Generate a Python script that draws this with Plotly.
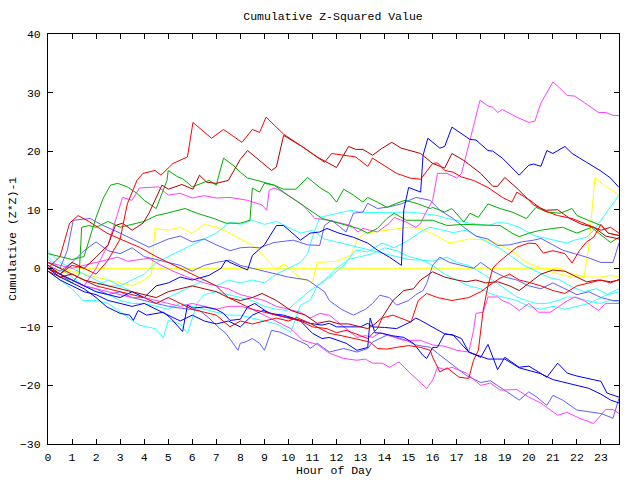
import plotly.graph_objects as go

HOUR_TICKS = list(range(0, 24))

RED_A = [(0,0),(0.5,-1),(1,0.5),(1.5,0),(2,-1),(2.5,1.4),(3,5),(3.3,11),(3.7,15),(3.95,16.2),(4.45,16.7),(4.7,15.9),(5.2,17.9),(5.8,19),(6.03,24.9),(6.8,22.2),(7.3,23.7),(8.07,21.5),(8.5,23.7),(8.8,23.2),(9.07,25.8),(9.8,22.9),(10.6,20.7),(11.0,19.5),(11.5,18.1),(11.8,19.6),(12.4,19.3),(12.8,19),(13.3,17.4),(13.5,18.8),(14.5,16.2),(15.06,15.4),(15.5,15.2),(16,17.9),(16.2,18),(16.5,16.7),(16.85,16.4),(17.2,15.6),(17.7,15),(18.3,13.8),(18.9,12.1),(19.3,11.3),(19.5,13),(20.05,11.6),(20.6,9.9),(21.2,9),(21.8,8.5),(22.4,7.5),(23,6.5),(23.4,7),(23.75,6)]
DARKRED_A = [(0,0.5),(0.5,-1),(1,1),(1.5,0),(2,1.9),(2.5,4),(2.8,7.3),(3.1,7.7),(3.5,6.5),(3.95,7.7),(4.2,9.4),(4.74,14.2),(5.0,13.5),(5.57,14.3),(6.03,13.5),(6.3,15.9),(6.6,14.7),(7.0,14.5),(7.5,15),(8.0,18.6),(8.3,20.1),(8.8,18.4),(9.3,16.7),(9.5,17.3),(9.8,22.7),(10.6,20.7),(11.2,19),(11.6,18.1),(12,17.2),(12.5,20.8),(12.8,20.3),(13.1,20.3),(13.5,19.3),(13.9,20.5),(14.3,21.5),(14.7,20.5),(15.5,19.6),(16,17.9),(16.5,17.1),(16.8,19.6),(17.3,18.4),(18,16.2),(18.5,14),(18.7,14),(19,15.5),(19.5,13.7),(20.2,10.8),(20.7,9.9),(21.2,10),(21.7,8.5),(22.2,7.5),(22.7,7),(23.2,5.5),(23.75,5)]
GREEN_A = [(0,2.5),(0.5,2),(1,1.5),(1.5,2),(2,8.7),(2.3,12),(2.6,14.2),(2.9,14.5),(3.3,13.9),(3.7,12.8),(4,11.6),(4.5,10.2),(4.95,15),(5,16.7),(5.4,15.6),(5.6,15.3),(6,13.9),(6.7,15),(7,14.2),(7.3,18.8),(7.7,17.6),(8,16.4),(8.3,15.4),(8.7,15),(9,14.7),(9.4,14.2),(9.8,13),(10.3,11.6),(10.9,9.9),(11.4,8.5),(12.1,7.7),(12.9,6.8),(13.3,6),(13.7,6.8),(14.1,8.5),(14.4,9.4),(14.9,8.2),(15.5,8.2),(16,8.2),(16.6,7.3),(17.3,7.5),(18,7.4),(18.8,7.3),(19.3,6),(19.6,5.4),(20,6),(20.5,6.5),(21,6.8),(21.4,7),(22,6),(22.6,7),(23.4,4.4),(23.75,5.3)]
GREEN_B = [(0,0),(0.5,-1),(1,-2.5),(1.3,-1),(1.4,7),(1.7,7.3),(2,7),(2.5,8),(3,7),(3.5,7.5),(4,8),(4.5,9),(4.95,9.4),(5.7,10.2),(6.2,9.4),(6.9,8.5),(7.4,7.7),(8,7.7),(8.4,8.2),(8.5,13.7),(8.8,13),(9,14.5),(9.4,14.2),(9.8,13.5),(10.3,13.5),(10.8,15.5),(11.3,13.8),(11.7,12.8),(12,11.3),(12.3,13.5),(12.7,12.5),(13.1,11.3),(13.3,12.1),(13.7,11.3),(14.1,10.4),(14.5,11.1),(14.85,11.6),(15.4,11),(15.9,10.2),(16,10.4),(16.5,9.6),(16.8,10.2),(17.3,7.9),(17.55,9.4),(17.9,8.7),(18.3,11),(18.8,10.2),(19.3,9.6),(19.9,8.5),(20.3,10.4),(20.75,9.6),(21.3,9.4),(21.8,10.2),(22,9),(22.5,8.2),(23,7.3),(23.3,6),(23.75,5.6)]
MAG_A = [(0,0.5),(0.5,-1),(1,-2),(1.5,-3),(2,0),(2.5,4),(2.9,9.4),(3.1,12.1),(3.5,11.6),(3.8,13.7),(4.6,13.9),(5,12.5),(5.5,12.8),(6,12),(6.5,12.4),(7,12),(7.57,12.1),(8.3,11.6),(8.9,10.8),(9.1,9.9),(9.2,13.3),(9.4,13.7),(9.65,13.3),(10.1,12.1),(10.6,10.8),(11.1,8.5),(11.7,8.2),(12.6,7.3),(12.9,6.2),(13.1,6.8),(13.7,6.2),(14.2,7.7),(14.4,8.7),(14.9,7.9),(15.3,7),(15.5,7.7),(15.7,9.4),(16,11.6),(16.2,16.2),(16.6,16.2),(17,15.4),(17.2,16.2),(17.55,21.9),(17.97,28.7),(18.3,27.7),(18.5,27.5),(18.7,26.6),(18.9,27.1),(19.5,25.8),(20,24.9),(20.25,25.1),(20.5,28.2),(21,31.8),(21.2,31.1),(21.6,29.5),(21.9,29.4),(22.3,28.3),(22.9,26.6),(23.2,26.6),(23.5,26.1),(23.75,26.1)]
MAG_B = [(0,0),(0.5,-1.5),(1,-2),(1.5,-3),(2,-3.5),(2.5,-4),(3,-4.5),(3.5,-5),(4,-5),(4.5,-5.5),(5,-6),(5.5,-6.5),(6,-6),(6.5,-6.5),(7,-7),(7.5,-6.5),(8,-6.5),(8.5,-7),(9,-8),(9.4,-8.9),(10.1,-10.3),(10.6,-12.3),(11.2,-13),(11.7,-14.5),(12.3,-15.4),(12.85,-15.7),(13.2,-15.5),(13.5,-16.2),(13.9,-16.2),(14.2,-16.9),(14.6,-16),(15.06,-17.9),(15.5,-19.5),(15.75,-20.5),(16,-19.1),(16.2,-16.9),(16.5,-17.3),(16.8,-16.9),(17.4,-17.9),(18,-20),(18.4,-19.6),(18.8,-20.8),(19.5,-20.7),(20,-22),(20.5,-23),(21.2,-25.1),(21.6,-24.6),(22.1,-25.6),(22.7,-26.5),(23.2,-24.1),(23.5,-24.1),(23.75,-24.8)]
MAG_C = [(0,1),(0.5,0.5),(1,0),(1.5,0.5),(2,1),(2.5,1.5),(2.9,1.9),(3.3,1.2),(3.7,1.4),(4.2,1.7),(4.7,0.5),(5.2,-0.5),(5.8,-1.5),(6.5,-2.5),(7,-3),(7.5,-3.5),(8,-4.5),(8.5,-5),(9,-5.5),(9.5,-6.5),(10,-7),(10.5,-7.5),(10.9,-8.5),(11.3,-7.7),(11.7,-8),(12.3,-10),(12.85,-11.8),(13.2,-11.5),(13.5,-11.8),(13.8,-11),(14.2,-11.5),(14.8,-12.3),(15.5,-12.3),(16,-13.1),(16.5,-13.3),(17,-14),(17.5,-14.3),(17.7,-10.6),(17.8,-7.7),(18.1,-7.5),(18.3,-4.9),(18.7,-4.9),(18.9,-5.5),(19.2,-6),(19.6,-7.2),(20,-6),(20.4,-7.5),(20.9,-7.5),(21.5,-5.8),(21.9,-4.9),(22.3,-5.5),(22.9,-7.2),(23.2,-6),(23.75,-6)]
BLUE_A = [(0,0),(0.5,-1),(1,-2),(1.5,-3),(2,-4),(2.5,-4.5),(3,-5),(3.5,-4),(4,-5),(4.5,-3),(5,-2.5),(5.5,-1.5),(6,-2),(6.7,-1.2),(7.2,0),(7.4,1.4),(7.57,1),(8.3,-0.3),(8.5,2.2),(9,4),(9.5,7.3),(9.8,7.3),(10.1,6.2),(10.5,4.8),(10.9,6),(11.3,6.2),(11.6,6.8),(12.1,6),(12.7,5.3),(13.3,4.3),(13.7,3.1),(14.2,1.9),(14.7,0.5),(14.8,10),(15,13.8),(15.5,13),(15.6,19.3),(15.8,22.2),(16.3,20.5),(16.5,20.8),(16.8,24.1),(17.55,22),(17.8,21.9),(18.3,20.1),(18.5,20),(18.9,18.8),(19.6,15.9),(20,17.6),(20.2,17.8),(20.5,17.4),(20.75,20.1),(21,19.6),(21.5,20.8),(21.8,19.6),(22.4,18.1),(22.96,16.7),(23.4,15.4),(23.75,13.8)]
BLUE_B = [(0,0),(0.5,-1.5),(1,-2.5),(1.5,-3.5),(2,-5),(2.45,-6.6),(3,-7.7),(3.4,-8),(3.55,-8.9),(3.75,-7.2),(4.1,-8),(4.45,-7.7),(4.8,-7.5),(5.1,-8.5),(5.3,-9.4),(5.6,-10.8),(5.8,-6.3),(6.03,-6.8),(6.5,-6.6),(7,-7),(7.3,-7.7),(7.57,-8.9),(8,-8.7),(8.3,-6.6),(8.6,-6),(9.2,-7.7),(9.8,-8),(10.5,-8.9),(10.9,-9.4),(11.4,-9.7),(11.7,-9.4),(12,-10),(13,-10),(13.3,-9.4),(13.5,-10),(14,-10.1),(14.5,-10.3),(15.06,-9.2),(15.3,-8.5),(15.5,-8.9),(16,-10),(16.5,-11.2),(16.85,-11.4),(17.5,-14.3),(18,-15.2),(18.3,-13),(18.7,-17.3),(19,-15.2),(19.6,-16.9),(20,-16.7),(20.4,-17.7),(20.75,-18.6),(21.2,-16.2),(21.6,-17.9),(22,-18.4),(22.4,-18.8),(23,-19.3),(23.25,-21.3),(23.75,-22)]
BLUE_C = [(0,-0.5),(0.5,-2),(1,-3),(1.5,-4),(2,-4.5),(2.5,-5.5),(3,-6),(3.5,-6.5),(4,-6),(4.5,-7),(5,-8),(5.5,-9),(6,-8),(6.5,-9),(7,-9.5),(7.5,-9),(8,-10),(8.5,-8),(8.95,-7.2),(9.5,-8),(10.1,-8.5),(10.5,-9),(11,-11.1),(11.4,-12),(11.7,-11.8),(12.1,-12.3),(12.4,-12.8),(12.85,-14),(13.1,-13.7),(13.3,-13.5),(13.4,-8.5),(13.6,-11),(13.9,-11.1),(14.3,-11.5),(14.8,-11.8),(15.2,-12.8),(15.6,-14.9),(15.75,-15.4),(15.9,-14.3),(16,-13.5),(16.2,-13.5),(16.5,-11.2),(16.85,-11.4),(17.2,-12),(17.5,-14.3),(18,-15),(18.3,-15.5),(18.7,-15.5),(19,-15.5),(19.6,-17),(20,-17.5),(20.5,-18),(21,-19),(21.5,-19.5),(22,-20),(22.5,-20.5),(23,-21.5),(23.4,-22.5),(23.75,-23)]
SLATE_A = [(0,0),(0.5,-1),(1,-2),(1.5,-3),(2,-3.5),(2.5,-4.5),(3,-4),(3.5,-5),(4,-5.5),(4.5,-6),(5,-6.5),(5.5,-6.8),(6,-7),(6.3,-7.2),(6.7,-8.5),(7.15,-10.3),(7.4,-11.1),(7.9,-14),(8,-12.8),(8.2,-12.6),(8.5,-12),(8.8,-12.8),(9,-14),(9.3,-10.6),(9.65,-10.9),(10.1,-11.8),(10.8,-13.1),(10.9,-13.7),(11.2,-12.8),(11.7,-14.3),(12.3,-13.7),(12.85,-14.3),(13.3,-13.7),(13.5,-12.6),(14.1,-11.4),(14.5,-11.8),(14.9,-12.3),(15.3,-13.1),(15.9,-13.5),(16.2,-14.5),(16.85,-16.6),(17.4,-18.3),(18,-19.5),(18.4,-19.2),(18.8,-20.3),(19.6,-22.5),(20,-21.1),(20.3,-21.9),(20.75,-23.4),(21,-21.7),(21.4,-22.5),(22,-24.2),(23,-24.8),(23.5,-25.6),(23.75,-22.2)]
SLATE_B = [(0,1),(0.5,0),(0.8,3),(1.05,8.2),(1.75,8.5),(2.2,7.5),(3,6),(3.5,5),(4.2,3.6),(5,5),(5.5,5.5),(6,4.5),(6.5,5),(7,4),(7.57,3),(8,3.5),(8.4,3.6),(8.8,3.5),(9.4,4.4),(10.2,4.8),(10.8,4),(11.3,3.9),(11.5,7.3),(11.8,8.2),(12.4,6.2),(12.7,9.4),(13.1,9.6),(13.3,11.1),(13.7,10.2),(14.2,10.5),(14.7,11),(15.3,12.1),(15.9,11.6),(16.3,9.9),(16.85,8.5),(17.3,7),(17.8,5.5),(18.3,5),(18.7,3.9),(19.2,4),(19.7,4.5),(20.2,4.8),(20.5,5.1),(21,4),(21.4,3.1),(21.9,2.5),(22.4,1.9),(23,1),(23.5,1),(23.75,4.3)]
SLATE_C = [(0,0.5),(0.5,-0.5),(1,1),(1.5,3),(2,4.5),(2.5,3),(3,2.5),(3.5,3.5),(4,2),(4.5,1.5),(5,1),(5.5,0.5),(6,-0.5),(6.5,0.5),(7,1),(7.57,1.4),(8,0.5),(8.5,0),(9,-0.5),(9.5,-1),(10,-1.5),(10.8,-2),(11.5,-4),(11.7,-5.5),(12.2,-7),(12.7,-8),(13.2,-7),(13.5,-6),(13.8,-4.6),(14.2,-5),(14.5,-6.3),(15,-5.5),(15.3,-4.5),(15.6,-3.8),(15.75,-2.6),(16,0.5),(16.3,1.9),(16.7,1),(17.2,0.5),(17.7,0),(18,1),(18.5,-0.5),(19,-1.5),(19.5,-2),(20,-3),(20.5,-3.5),(21,-2.5),(21.5,-3.5),(22,-4.5),(22.5,-4),(23,-5),(23.5,-5.5),(23.75,-5.5)]
CYAN_A = [(0,3),(0.5,1),(1,0),(1.5,-1),(2,-2),(2.5,-3),(3,-3),(3.5,-4),(4,-5),(4.5,-6),(5,-5),(5.5,-4),(6,-3),(6.5,-2),(7,-3),(7.5,-2),(8,-2.5),(8.5,-2),(9,-2.5),(9.5,-1),(10,0),(10.5,1),(10.8,2.5),(11,5.3),(11.3,8.7),(12,9.4),(12.6,9.9),(13.1,9.5),(13.5,9.5),(14,9.6),(14.5,9.5),(15,9.6),(15.5,9.4),(16.2,9),(16.6,8.5),(17.55,7.7),(18.3,7.3),(18.7,7.8),(19.1,7.7),(19.6,7),(20.2,5.6),(20.75,5.1),(21.6,4.3),(21.9,4.8),(22.4,5.3),(22.7,6.5),(23,8.2),(23.3,9.9),(23.75,12.5)]
CYAN_B = [(0,2),(0.5,0),(1,-1),(1.5,-2),(2,-3),(2.5,-2),(3,-3),(3.5,-2),(4,-1),(4.5,1),(5,2),(5.5,3),(6,4),(6.5,5),(7,6),(7.57,7.9),(8,7.5),(8.5,8.2),(9,7.5),(9.5,8),(10,7),(10.5,6),(11,6.5),(11.5,5),(12,4.5),(12.5,4),(13,3.5),(13.5,3),(14,2.5),(14.5,2),(15,1.5),(15.5,1.4),(16,1.2),(16.6,1.9),(17,1),(17.5,0.5),(18,-0.7),(18.3,-1.5),(18.7,-2.6),(19.1,-3.8),(19.5,-4.9),(19.9,-5.5),(20.3,-6),(20.75,-6),(21.2,-5.5),(21.6,-4.9),(22,-5),(22.4,-5.5),(22.96,-6),(23.4,-5.5),(23.75,-5.8)]
CYAN_C = [(0,-0.5),(0.5,-2),(1,-3.5),(1.45,-5.5),(2,-5.5),(2.5,-6),(3,-7.5),(3.5,-8.9),(3.8,-9.7),(4.45,-10.3),(4.8,-11.8),(5,-8.9),(5.5,-9.5),(5.8,-11.1),(6.2,-6),(6.5,-4.5),(7,-4),(7.5,-4.5),(8,-5),(8.5,-5.5),(9,-6.5),(9.5,-7),(9.95,-7.2),(10.4,-5.5),(10.9,-3.8),(11.4,-2.5),(11.9,-0.9),(12.3,0.5),(12.8,3.1),(13.3,2.8),(13.9,4.3),(14.4,3.5),(15,4.8),(15.6,6.5),(15.9,7),(16.5,6.5),(16.85,6.1),(17.4,6.5),(18.3,4.4),(18.8,3.4),(19.3,1.9),(19.8,0.5),(20.3,-0.5),(20.8,-1.5),(21.3,-2),(21.8,-3.2),(22.3,-4),(22.8,-3.5),(23.3,-4.5),(23.75,-4)]
CYAN_D = [(0,1.5),(0.5,0),(1,-1.5),(1.5,-3),(2,-4),(2.5,-4.5),(3,-5.5),(3.5,-6),(4,-6),(4.5,-6.5),(5,-7),(5.5,-6),(6,-6.5),(6.5,-7),(7,-7.5),(7.5,-8),(8,-8),(8.5,-8.5),(9,-9),(9.5,-9.5),(10.1,-10.9),(10.5,-6.3),(10.9,-5.5),(11.2,-3),(11.5,-2),(12,0),(12.5,1.5),(13,2),(13.5,2.5),(14,3.5),(14.5,3),(15,2),(15.5,1.5),(16,0.5),(16.5,-1),(17,-2),(17.5,-3),(18,-3.5),(18.5,-4.5),(19,-5),(19.5,-5.5),(20,-6.5),(20.5,-7),(21,-6.5),(21.5,-7),(22,-6.5),(22.5,-6),(23,-5),(23.5,-4),(23.75,-3.5)]
YELLOW_A = [(0,0),(0.5,-0.5),(1,-1),(1.3,0),(21.3,0),(21.8,-1),(22.4,-1.5),(23,-1.5),(23.4,-1.2),(23.75,-1.5)]
YELLOW_B = [(0,1),(0.5,0),(1,-0.5),(1.5,-1),(2,-1.5),(2.5,-2),(3,-2.5),(3.5,-3),(4,-2),(4.3,-1),(4.45,6.8),(5,6.5),(5.5,7),(6,6),(6.5,7.5),(7,7),(7.57,6),(8,5),(8.5,4),(9,2),(9.5,-0.3),(9.8,0.8),(10.5,-1.7),(11,-2.4),(11.2,1),(12,1.2),(12.6,2.2),(12.9,5.1),(13.2,6),(14,6.5),(15,7),(15.5,6.8),(16.2,5.5),(16.7,4.3),(17.5,5),(18.3,4.8),(18.8,4),(19.3,3),(19.9,1),(21,-0.7),(21.8,-1.5),(22.3,-1.5),(22.5,4),(22.75,15.5),(23.2,14),(23.75,12.5)]
RED_B = [(0,1),(0.5,0),(1,-1),(1.5,-2),(2,-3),(2.5,-3.5),(3,-4),(3.5,-4.5),(4,-5),(4.5,-6),(5,-5),(5.5,-6),(6,-7),(6.5,-7.5),(7,-8),(7.57,-10),(8,-9),(8.5,-9.5),(9,-9),(9.5,-8.5),(10,-9),(10.35,-8.4),(10.9,-9.4),(11.7,-11.1),(12.2,-11.5),(12.8,-12),(13.4,-12.6),(13.7,-13.7),(14.1,-13.8),(14.5,-13.5),(15,-13.2),(15.5,-13.5),(15.9,-14),(16,-15.2),(16.3,-17.7),(16.6,-17),(17.1,-18.6),(17.5,-18.8),(17.7,-15.7),(17.9,-14),(18,-10),(18.1,-7.2),(18.3,-3),(18.5,0),(18.7,0.9),(19,1.9),(19.5,3.6),(20,4.3),(20.3,4.2),(20.6,2.6),(21,3),(21.5,2.5),(21.8,0.9),(22.1,3),(22.4,4.5),(22.7,5.3),(23,7.5),(23.3,6),(23.75,5.6)]
RED_C = [(0,0),(0.5,2),(0.9,7.7),(1.25,9),(1.7,8),(2.45,6),(3,5),(3.8,3.6),(4.5,2),(5,1),(5.5,0),(6,-1),(6.5,-2),(7,-3),(7.5,-5),(8,-6),(8.5,-7),(9,-7.5),(9.5,-8),(10,-8.5),(10.5,-9),(11,-10),(11.6,-10.3),(12,-11),(12.4,-10.6),(13,-11.5),(13.3,-12),(13.7,-10.3),(13.9,-8.5),(14.35,-8),(14.7,-8.5),(15.1,-9.2),(15.4,-5.5),(15.75,-4.3),(16.2,-5),(16.8,-5.5),(17.5,-5),(18,-4),(18.5,-2.5),(18.8,-1.7),(19.2,-1),(19.6,-2),(20,-2.4),(20.5,-3),(21,-3.8),(21.5,-4.3),(22,-3),(22.5,-2.5),(23,-2),(23.4,-2.5),(23.75,-1.9)]
DARKRED_B = [(0,-0.5),(0.5,-1.5),(1,-1),(1.5,-2),(2,-2.5),(2.5,-3),(3,-3.5),(3.5,-4),(4,-4.5),(4.5,-5),(5,-4),(5.5,-3.5),(6,-3),(6.5,-3.5),(7,-4),(7.5,-5),(8,-5.5),(8.5,-5),(8.9,-4.3),(9.5,-5.5),(10.1,-7.2),(10.7,-8),(11.2,-9.4),(11.7,-9),(12.1,-9.5),(12.5,-9.5),(13,-10),(13.3,-10.3),(13.6,-9.5),(13.9,-8.4),(14.35,-5.5),(14.8,-3.8),(15.2,-3.5),(15.5,-2),(16,-0.6),(16.5,-1.5),(17,-2),(17.4,-2.3),(17.8,-2),(18.2,-2.5),(18.7,-2.3),(19.2,-3),(19.6,-3.8),(20,-2.5),(20.5,-1),(21,-0.3),(21.5,-0.5),(22,-1.5),(22.4,-2.3),(22.9,-2),(23.4,-2.3),(23.75,-2)]

RED = "#ff0000"
DARKRED = "#b00000"
GREEN = "#00b000"
BLUE = "#0000ff"
SLATE = "#6060ff"
MAGENTA = "#ff40ff"
CYAN = "#30ffff"
YELLOW = "#ffff00"

SERIES = [
    (YELLOW_A, YELLOW), (YELLOW_B, YELLOW),
    (CYAN_A, CYAN), (CYAN_B, CYAN), (CYAN_C, CYAN), (CYAN_D, CYAN),
    (SLATE_A, SLATE), (SLATE_B, SLATE), (SLATE_C, SLATE),
    (MAG_A, MAGENTA), (MAG_B, MAGENTA), (MAG_C, MAGENTA),
    (GREEN_A, GREEN), (GREEN_B, GREEN),
    (BLUE_A, BLUE), (BLUE_B, BLUE), (BLUE_C, BLUE),
    (DARKRED_A, DARKRED), (DARKRED_B, DARKRED),
    (RED_A, RED), (RED_B, RED), (RED_C, RED),
]

fig = go.Figure()
for pts, col in SERIES:
    fig.add_trace(go.Scatter(
        x=[p[0] for p in pts], y=[p[1] for p in pts], mode="lines",
        line=dict(color=col, width=1), hoverinfo="skip", showlegend=False))

FONT = "Liberation Mono"
FS = 11.5
axis_common = dict(
    showline=True, linecolor="black", linewidth=1, mirror="ticks",
    ticks="inside", ticklen=5, tickcolor="black", tickwidth=1,
    showgrid=False, zeroline=False,
    tickfont=dict(family=FONT, size=FS, color="black"),
)
fig.update_xaxes(range=[0, 23.75], tickvals=HOUR_TICKS, ticklabelstandoff=2, **axis_common)
fig.update_yaxes(range=[-30, 40], tickvals=[-30, -20, -10, 0, 10, 20, 30, 40], ticklabelstandoff=4, **axis_common)

fig.update_layout(
    width=640, height=480,
    margin=dict(l=48, r=21, t=34, b=36, pad=0),
    paper_bgcolor="white", plot_bgcolor="white",
    showlegend=False,
    font=dict(family=FONT, size=FS, color="black"),
    title=dict(text="Cumulative Z-Squared Value", x=333/640, xanchor="center",
               y=1-16/480, yanchor="middle", font=dict(family=FONT, size=FS)),
    annotations=[
        dict(text="Hour of Day", xref="paper", yref="paper", x=0.5, y=-(470-444)/410,
             xanchor="center", yanchor="middle", showarrow=False,
             font=dict(family=FONT, size=FS)),
        dict(text="Cumulative (Z*Z)-1", xref="paper", yref="paper", x=(12-48)/571, y=0.5,
             xanchor="center", yanchor="middle", textangle=-90, showarrow=False,
             font=dict(family=FONT, size=FS)),
    ],
)

fig.write_html("out.html")
